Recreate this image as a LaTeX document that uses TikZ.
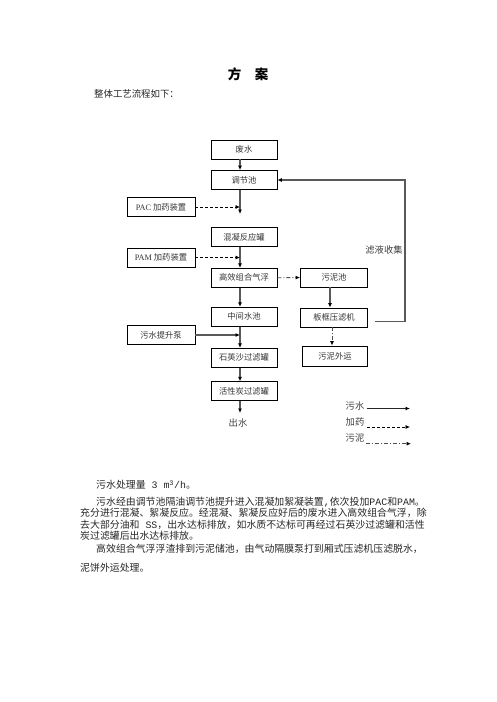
\documentclass[tikz,border=0pt]{standalone}
\usepackage{fontspec}
\setmainfont{Noto Sans CJK SC}
\newfontfamily\lat{Liberation Serif}
\newfontfamily\mono{Liberation Mono}
\usetikzlibrary{arrows.meta,calc}
\begin{document}
\begin{tikzpicture}[x=1pt,y=-1pt,
  box/.style={draw=black, line width=0.8pt, minimum width=66pt, minimum height=19pt, inner sep=0pt,
    font=\fontsize{8.3}{9}\selectfont, text=black!80},
  tip/.style={-{Latex[length=4.5pt,width=4pt,black]}},
  flow/.style={tip, draw=black!65, line width=1.3pt},
  dose/.style={tip, draw=black, line width=0.7pt, dash pattern=on 3pt off 2pt},
  sludge/.style={tip, draw=black!70, line width=0.9pt, dash pattern=on 4pt off 2pt on 1pt off 2pt},
  body/.style={anchor=west, inner sep=0pt, font=\fontsize{9.9}{10}\selectfont, text=black!85},
  lbl/.style={inner sep=0pt, font=\fontsize{9.3}{10}\selectfont, text=black!75},
]
\path[use as bounding box] (0,0) rectangle (496,702);

% title
\node[inner sep=0pt, font=\fontsize{13.5}{14}\selectfont\bfseries] (title) at (248,74) {方\hspace{1em}案};
\node[body, font=\fontsize{9.4}{10}\selectfont] (intro) at (94,94) {整体工艺流程如下：};

% spine
\coordinate (spine) at (240,0);

% boxes
\node[box] (ws)  at (244,149.5) {废水};
\node[box] (tj)  at (244,180)   {调节池};
\node[box, minimum width=68pt] (pac) at (161,207) {{\lat PAC} 加药装置};
\node[box] (hn)  at (244,237)   {混凝反应罐};
\node[box, minimum width=68pt] (pam) at (161,257.5) {{\lat PAM} 加药装置};
\node[box] (gx)  at (244,277.8) {高效组合气浮};
\node[box, minimum width=67pt] (wnc) at (334,277.5) {污泥池};
\node[box] (zj)  at (244,316.7) {中间水池};
\node[box, minimum width=67pt] (bk)  at (334,317.5) {板框压滤机};
\node[box, minimum width=68pt] (pump) at (161,335) {污水提升泵};
\node[box] (sy)  at (244,357.8) {石英沙过滤罐};
\node[box, minimum width=65pt, minimum height=20pt] (wy) at (335,356) {污泥外运};
\node[box] (hx)  at (244,391.2) {活性炭过滤罐};
\node[lbl] (cs) at (238,422.7) {出水};
\node[lbl] (lyc) at (384,250) {滤液收集};

% main flow
\draw[flow] (ws.south -| spine) -- (tj.north -| spine);
\coordinate (j1) at (240,214);
\draw[flow] (tj.south -| spine) -- (j1);
\draw[dose] (pac.east) -- (pac.east -| spine);
\draw[flow] (hn.south -| spine) -- (gx.north -| spine);
\draw[dose] (pam.east) -- (pam.east -| spine);
\draw[flow] (gx.south -| spine) -- (zj.north -| spine);
\draw[flow] (zj.south -| spine) -- (sy.north -| spine);
\draw[flow] (pump.east) -- (pump.east -| spine);
\draw[flow] (sy.south -| spine) -- (hx.north -| spine);
\coordinate (out) at (240,413);
\draw[flow] (hx.south -| spine) -- (out);

% sludge line
\draw[sludge] (gx.east) -- (wnc.west);
\draw[flow] ($(wnc.south)+(-4,0)$) -- ($(bk.north)+(-4,0)$);
\draw[sludge] ($(bk.south)+(-2,0)$) -- ($(wy.north)+(-3,0)$);

% filtrate return
\coordinate (fb0) at (375,321.7);
\coordinate (fb1) at (405,321.7);
\draw[flow] (fb0) -- (fb1) |- (tj.east);

% legend
\node[lbl] (lg1) at (355,406) {污水};
\node[lbl] (lg2) at (355,421.5) {加药};
\node[lbl] (lg3) at (355,438) {污泥};
\coordinate (l1a) at (367,408.5); \coordinate (l1b) at (410,408.5);
\coordinate (l2a) at (367,427);   \coordinate (l2b) at (410,427);
\coordinate (l3a) at (366,443.7); \coordinate (l3b) at (411,443.7);
\draw[flow, draw=black!85, line width=1pt] (l1a) -- (l1b);
\draw[dose] (l2a) -- (l2b);
\draw[sludge] (l3a) -- (l3b);

% body text
\node[body] (p0) at (96,485) {污水处理量{\mono\ 3 m\textsuperscript{3}/h}。};
\node[body] (p1) at (96,501.7) {污水经由调节池隔油调节池提升进入混凝加絮凝装置{\mono ,}依次投加{\mono PAC}和{\mono PAM}。};
\node[body] (p2) at (80,513.3) {充分进行混凝、絮凝反应。经混凝、絮凝反应好后的废水进入高效组合气浮，除};
\node[body] (p3) at (80,524.5) {去大部分油和{\mono\ SS}，出水达标排放，如水质不达标可再经过石英沙过滤罐和活性};
\node[body] (p4) at (80,536) {炭过滤罐后出水达标排放。};
\node[body] (p5) at (96,549) {高效组合气浮浮渣排到污泥储池，由气动隔膜泵打到厢式压滤机压滤脱水，};
\node[body] (p6) at (80,568) {泥饼外运处理。};
\end{tikzpicture}
\end{document}
